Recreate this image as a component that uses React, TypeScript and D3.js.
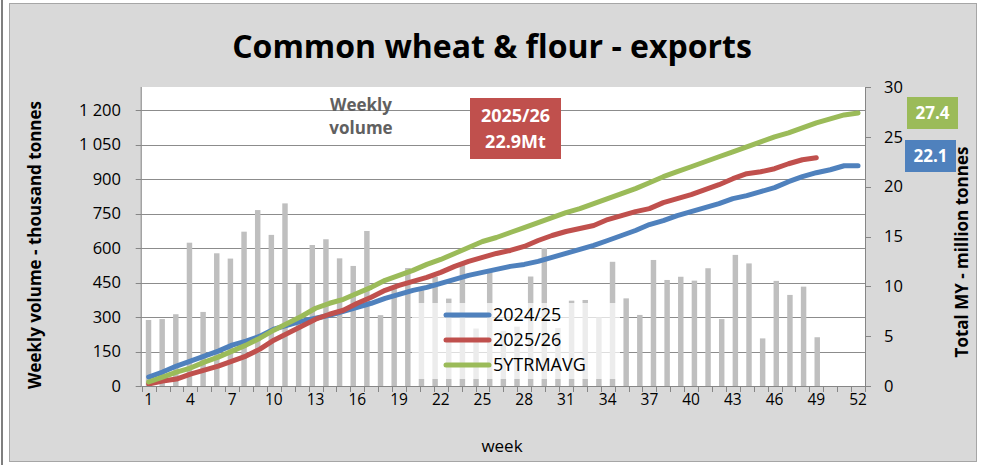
import React, { useEffect, useRef } from 'react';
import * as d3 from 'd3';

// categories
const weeks: number[] = Array.from({ length: 52 }, (_, i) => i + 1);
const barSlots: number[] = Array.from({ length: 53 }, (_, i) => i + 1);
const weekTickLabels = [1, 4, 7, 10, 13, 16, 19, 22, 25, 28, 31, 34, 37, 40, 43, 46, 49, 52];

// weekly volume 2025/26, thousand tonnes
const weeklyVolume = [
  287, 291, 312, 623, 322, 577, 554, 671, 765, 657,
  794, 443, 613, 638, 555, 522, 674, 308, 430, 513,
  426, 475, 380, 526, 250, 495, 240, 258, 476, 600,
  252, 371, 374, 298, 540, 381, 309, 548, 461, 475,
  458, 512, 291, 570, 533, 207, 457, 396, 432, 212,
];

// cumulative totals, million tonnes
const total2425 = [
  0.9, 1.4, 2.0, 2.5, 3.0, 3.5, 4.1, 4.5, 5.0, 5.7,
  6.1, 6.5, 6.8, 7.1, 7.5, 7.9, 8.3, 8.8, 9.2, 9.6,
  9.9, 10.3, 10.7, 11.1, 11.4, 11.7, 12.0, 12.2, 12.5, 12.9,
  13.3, 13.7, 14.1, 14.6, 15.1, 15.6, 16.2, 16.6, 17.1, 17.5,
  17.9, 18.3, 18.8, 19.1, 19.5, 19.9, 20.5, 21.0, 21.4, 21.7,
  22.1, 22.1,
];
const total2526 = [
  0.2, 0.5, 0.7, 1.2, 1.6, 2.0, 2.5, 3.0, 3.7, 4.6,
  5.3, 6.0, 6.7, 7.2, 7.6, 8.3, 8.9, 9.6, 10.1, 10.5,
  10.9, 11.4, 12.0, 12.5, 12.9, 13.3, 13.6, 14.0, 14.6, 15.1,
  15.5, 15.8, 16.1, 16.7, 17.1, 17.5, 17.8, 18.4, 18.8, 19.2,
  19.7, 20.2, 20.8, 21.3, 21.5, 21.8, 22.3, 22.7, 22.9,
];
const total5yr = [
  0.4, 0.9, 1.4, 1.8, 2.4, 2.9, 3.5, 4.1, 4.8, 5.6,
  6.3, 7.0, 7.8, 8.3, 8.7, 9.3, 9.9, 10.6, 11.1, 11.6,
  12.2, 12.7, 13.3, 13.9, 14.5, 14.9, 15.4, 15.9, 16.4, 16.9,
  17.4, 17.8, 18.3, 18.8, 19.3, 19.8, 20.4, 21.0, 21.5, 22.0,
  22.5, 23.0, 23.5, 24.0, 24.5, 25.0, 25.4, 25.9, 26.4, 26.8,
  27.2, 27.4,
];

const leftTicks = [0, 150, 300, 450, 600, 750, 900, 1050, 1200];
const rightTicks = [0, 5, 10, 15, 20, 25, 30];

const series = [
  { name: '2024/25', values: total2425, color: '#4f81bd' },
  { name: '2025/26', values: total2526, color: '#c0504d' },
  { name: '5YTRMAVG', values: total5yr, color: '#9bbb59' },
];

const FONT = "'Open Sans', 'Noto Sans', sans-serif";

const App = () => {
  const svgRef = useRef<SVGSVGElement>(null);

  useEffect(() => {
    const width = 986;
    const height = 465;
    const svg = d3.select(svgRef.current);
    svg.selectAll('*').remove();
    svg.attr('width', width).attr('height', height);

    const plot = { left: 141.7, right: 865, top: 87, bottom: 386 };

    // outer frame
    svg.append('rect').attr('x', 0).attr('y', 0).attr('width', width).attr('height', height).attr('fill', '#ffffff');
    svg.append('line').attr('x1', 2).attr('x2', 2).attr('y1', 0).attr('y2', height).attr('stroke', '#7f7f7f').attr('stroke-width', 2);
    svg.append('rect')
      .attr('x', 9.5).attr('y', 3.5).attr('width', 967).attr('height', 458)
      .attr('fill', '#d9d9d9').attr('stroke', '#a6a6a6').attr('stroke-width', 1);

    // plot background
    svg.append('rect')
      .attr('x', plot.left).attr('y', plot.top)
      .attr('width', plot.right - plot.left).attr('height', plot.bottom - plot.top)
      .attr('fill', '#ffffff');

    // scales
    const yLeft = d3.scaleLinear().domain([0, 1300]).range([plot.bottom, plot.top]);
    const yRight = d3.scaleLinear().domain([0, 30]).range([plot.bottom, plot.top]);
    const xBand = d3.scaleBand<number>().domain(weeks).range([plot.left, plot.right]);
    const xBars = d3.scaleBand<number>().domain(barSlots).range([plot.left, plot.right])
      .paddingInner(0.6).paddingOuter(0.3);
    const xLine = d3.scalePoint<number>().domain(weeks).range([plot.left, plot.right]).padding(0.5);

    // gridlines
    svg.append('g').selectAll('line').data(leftTicks.filter(d => d > 0)).join('line')
      .attr('x1', plot.left).attr('x2', plot.right)
      .attr('y1', d => Math.round(yLeft(d)) + 0.5).attr('y2', d => Math.round(yLeft(d)) + 0.5)
      .attr('stroke', '#8c8c8c').attr('stroke-width', 1);

    // bars
    svg.append('g').selectAll('rect').data(weeklyVolume).join('rect')
      .attr('x', (_, i) => xBars(i + 1)!)
      .attr('y', d => yLeft(d))
      .attr('width', xBars.bandwidth())
      .attr('height', d => plot.bottom - yLeft(d))
      .attr('fill', '#bfbfbf');

    // lines
    const line = d3.line<number>()
      .x((_, i) => xLine(i + 1)!)
      .y(d => yRight(d))
      .curve(d3.curveLinear);
    series.forEach(s => {
      svg.append('path')
        .attr('d', line(s.values))
        .attr('fill', 'none')
        .attr('stroke', s.color)
        .attr('stroke-width', 5)
        .attr('stroke-linecap', 'round')
        .attr('stroke-linejoin', 'round');
    });

    // left axis
    const gl = svg.append('g');
    gl.append('line').attr('x1', plot.left - 0.5).attr('x2', plot.left - 0.5)
      .attr('y1', plot.top).attr('y2', plot.bottom).attr('stroke', '#868686');
    gl.selectAll('line.t').data(leftTicks).join('line').attr('class', 't')
      .attr('x1', plot.left - 6).attr('x2', plot.left)
      .attr('y1', d => Math.round(yLeft(d)) + 0.5).attr('y2', d => Math.round(yLeft(d)) + 0.5)
      .attr('stroke', '#868686');
    gl.selectAll('text').data(leftTicks).join('text')
      .attr('x', 121).attr('y', d => yLeft(d)).attr('dy', '0.35em')
      .attr('text-anchor', 'end')
      .style('font-family', FONT).style('font-size', '16.5px').attr('fill', '#000')
      .text(d => d3.format(',')(d).replace(',', ' '));

    // right axis
    const gr = svg.append('g');
    gr.append('line').attr('x1', plot.right + 0.5).attr('x2', plot.right + 0.5)
      .attr('y1', plot.top).attr('y2', plot.bottom).attr('stroke', '#868686');
    gr.selectAll('line.t').data(rightTicks).join('line').attr('class', 't')
      .attr('x1', plot.right).attr('x2', plot.right + 6)
      .attr('y1', d => Math.round(yRight(d)) + 0.5).attr('y2', d => Math.round(yRight(d)) + 0.5)
      .attr('stroke', '#868686');
    gr.selectAll('text').data(rightTicks).join('text')
      .attr('x', 884).attr('y', d => yRight(d)).attr('dy', '0.35em')
      .attr('text-anchor', 'start')
      .style('font-family', FONT).style('font-size', '16.5px').attr('fill', '#000')
      .text(d => String(d));

    // x axis
    const gx = svg.append('g');
    gx.append('line').attr('x1', plot.left).attr('x2', plot.right)
      .attr('y1', plot.bottom + 0.5).attr('y2', plot.bottom + 0.5).attr('stroke', '#868686');
    gx.selectAll('line.t').data([...weeks.map(w => xBand(w)!), plot.right]).join('line').attr('class', 't')
      .attr('x1', d => Math.round(d) + 0.5).attr('x2', d => Math.round(d) + 0.5)
      .attr('y1', plot.bottom).attr('y2', plot.bottom + 6)
      .attr('stroke', '#868686');
    gx.selectAll('text').data(weekTickLabels).join('text')
      .attr('x', d => xLine(d)!).attr('y', 405)
      .attr('text-anchor', 'middle')
      .style('font-family', FONT).style('font-size', '15.5px').attr('fill', '#000')
      .text(d => String(d));

    // legend (semi-transparent box)
    svg.append('rect').attr('x', 412).attr('y', 303).attr('width', 208).attr('height', 76)
      .attr('fill', '#ffffff').attr('fill-opacity', 0.7);
    series.forEach((s, i) => {
      const ly = 315 + i * 25;
      svg.append('line').attr('x1', 446).attr('x2', 489).attr('y1', ly).attr('y2', ly)
        .attr('stroke', s.color).attr('stroke-width', 5).attr('stroke-linecap', 'round');
      svg.append('text').attr('x', 493).attr('y', ly).attr('dy', '0.36em')
        .style('font-family', FONT).style('font-size', '18px').attr('fill', '#000')
        .text(s.name);
    });

    // titles
    svg.append('text').attr('x', 492).attr('y', 58).attr('text-anchor', 'middle')
      .style('font-family', FONT).style('font-size', '32px').style('font-weight', 'bold')
      .attr('fill', '#000').text('Common wheat & flour - exports');
    svg.append('text').attr('transform', 'translate(41,245) rotate(-90)').attr('text-anchor', 'middle')
      .style('font-family', FONT).style('font-size', '17px').style('font-weight', 'bold')
      .attr('fill', '#000').text('Weekly volume - thousand tonnes');
    svg.append('text').attr('transform', 'translate(968,252) rotate(-90)').attr('text-anchor', 'middle')
      .style('font-family', FONT).style('font-size', '17px').style('font-weight', 'bold')
      .attr('fill', '#000').text('Total MY - million tonnes');
    svg.append('text').attr('x', 502).attr('y', 452).attr('text-anchor', 'middle')
      .style('font-family', FONT).style('font-size', '17px').attr('fill', '#000').text('week');

    // "Weekly volume" note
    ['Weekly', 'volume'].forEach((t, i) => {
      svg.append('text').attr('x', 361).attr('y', 111 + i * 23).attr('text-anchor', 'middle')
        .style('font-family', FONT).style('font-size', '17px').style('font-weight', 'bold')
        .attr('fill', '#606060').text(t);
    });

    // 2025/26 label box
    svg.append('rect').attr('x', 470).attr('y', 98).attr('width', 91).attr('height', 61).attr('fill', '#c0504d');
    ['2025/26', '22.9Mt'].forEach((t, i) => {
      svg.append('text').attr('x', 515.5).attr('y', 122 + i * 26).attr('text-anchor', 'middle')
        .style('font-family', FONT).style('font-size', '18px').style('font-weight', 'bold')
        .attr('fill', '#fff').text(t);
    });

    // end value boxes
    const endBoxes = [
      { label: '27.4', x: 907, y: 97, color: '#9bbb59' },
      { label: '22.1', x: 905, y: 140, color: '#4f81bd' },
    ];
    endBoxes.forEach(b => {
      svg.append('rect').attr('x', b.x).attr('y', b.y).attr('width', 51).attr('height', 32).attr('fill', b.color);
      svg.append('text').attr('x', b.x + 25.5).attr('y', b.y + 16).attr('dy', '0.36em').attr('text-anchor', 'middle')
        .style('font-family', FONT).style('font-size', '17px').style('font-weight', 'bold')
        .attr('fill', '#fff').text(b.label);
    });
  }, []);

  return (
    <div style={{ position: 'absolute', left: 0, top: 0 }}>
      <svg ref={svgRef}></svg>
    </div>
  );
};

export default App;
